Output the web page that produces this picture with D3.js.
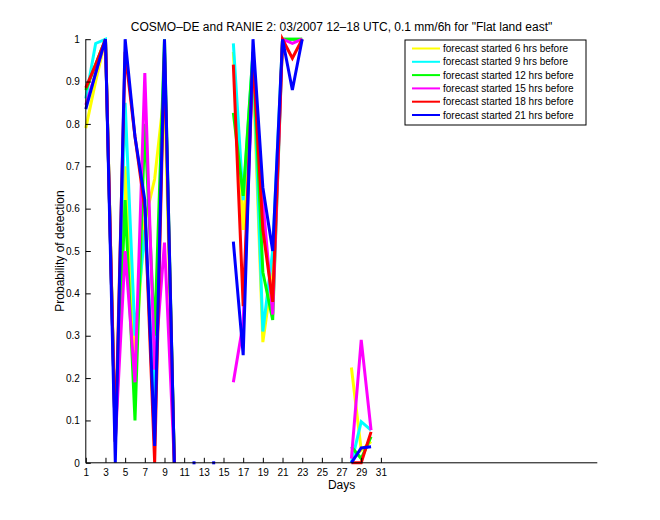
<!DOCTYPE html>
<html><head><meta charset="utf-8">
<script src="https://cdn.jsdelivr.net/npm/d3@7"></script>
<style>body{margin:0;background:#fff;} text{font-family:"Liberation Sans",Arial,Helvetica,sans-serif;}</style>
</head><body><div id="chart"></div>
<script>
const days = [1,2,3,4,5,6,7,8,9,10,11,12,13,14,15,16,17,18,19,20,21,22,23,24,25,26,27,28,29,30,31];
const N = null;
const s6  = [0.79,0.90,1,0.07,0.70,0.25,0.57,0.67,0.88,0, N,N,N,N,N, 0.97,0.55,0.93,0.285,0.45,1,1,1, N,N,N,N, 0.225,0.03,0.05, N];
const s9  = [0.86,0.99,1,0.05,0.85,0.30,0.55,0.15,0.97,0, N,N,N,N,N, 0.99,0.62,0.97,0.31,0.50,1,1,1, N,N,N,N, 0.0,0.097,0.077, N];
const s12 = [0.88,0.94,1,0.05,0.62,0.10,0.80,0.30,1.0,0, N,N,N,N,N, 0.826,0.63,0.97,0.45,0.337,1,1,1, N,N,N,N, 0.038,0.01,0.062, N];
const s15 = [0.845,0.92,1,0.05,0.50,0.19,0.92,0.22,0.52,0, N,N,N,N,N, 0.19,0.33,0.95,0.62,0.35,1,0.99,1, N,N,N,N, 0.01,0.29,0.077, N];
const s18 = [0.885,0.94,1,0.05,0.97,0.77,0.60,0.0,0.97,0, N,N,N,N,N, 0.94,0.37,0.96,0.55,0.38,1,0.955,1, N,N,N,N, 0.0,0.0,0.073, N];
const s21 = [0.835,0.92,1,0,1,0.77,0.62,0.04,1,0, N,0,N,0,N, 0.522,0.254,1,0.65,0.50,1,0.88,1, N,N,N,N, 0.0,0.035,0.038, N];
const seriesNames = ["forecast started 6 hrs before","forecast started 9 hrs before","forecast started 12 hrs before","forecast started 15 hrs before","forecast started 18 hrs before","forecast started 21 hrs before"];
const seriesColors = ["#ffff00","#00ffff","#00ff00","#ff00ff","#ff0000","#0000ff"];
const seriesValues = [s6,s9,s12,s15,s18,s21];
const xTicks = [1,3,5,7,9,11,13,15,17,19,21,23,25,27,29,31];
const yTicks = [0,0.1,0.2,0.3,0.4,0.5,0.6,0.7,0.8,0.9,1];
const titleText = 'COSMO\u2013DE and RANIE 2: 03/2007 12\u201318 UTC, 0.1 mm/6h for "Flat land east"';

const W=660,H=520;
const L=85.8,R=597.3,T=39.2,B=462.8;
const svg=d3.select("#chart").append("svg").attr("width",W).attr("height",H);
const x=d3.scaleLinear().domain([1,53]).range([L,R]);
const y=d3.scaleLinear().domain([0,1]).range([B,T]);

// lines
const line=d3.line().defined(d=>d[1]!==null).x(d=>x(d[0])).y(d=>y(d[1]));
seriesValues.forEach((vals,i)=>{
  const pts=days.map((d,j)=>[d,vals[j]]);
  svg.append("path").attr("d",line(pts)).attr("fill","none")
    .attr("stroke",seriesColors[i]).attr("stroke-width",3).attr("stroke-linejoin","miter");
  // isolated points
  pts.forEach((p,j)=>{
    if(p[1]===null) return;
    const prev=j>0?vals[j-1]:null, next=j<vals.length-1?vals[j+1]:null;
    if(prev===null && next===null){
      svg.append("rect").attr("x",x(p[0])-1.5).attr("y",y(p[1])-1.5).attr("width",3).attr("height",3).attr("fill",seriesColors[i]);
    }
  });
});

// axes
const xAxis=d3.axisBottom(x).tickValues(xTicks).tickFormat(d3.format("d")).tickSizeInner(-5).tickSizeOuter(0).tickPadding(6);
const gx=svg.append("g").attr("transform",`translate(0,${B})`).call(xAxis);
gx.select(".domain").remove();
svg.append("line").attr("x1",L).attr("x2",R).attr("y1",B).attr("y2",B).attr("stroke","#000");
gx.selectAll("text").attr("font-size",10).attr("fill","#000");
const yAxis=d3.axisLeft(y).tickValues(yTicks).tickFormat(d=>d===0?"0":d===1?"1":d3.format(".1f")(d)).tickSizeInner(-5).tickSizeOuter(0).tickPadding(6);
const gy=svg.append("g").attr("transform",`translate(${L},0)`).call(yAxis);
gy.select(".domain").remove();
svg.append("line").attr("x1",L).attr("x2",L).attr("y1",T).attr("y2",B).attr("stroke","#000");
gy.selectAll("text").attr("font-size",10).attr("fill","#000");

// labels
svg.append("text").attr("x",(L+R)/2).attr("y",31).attr("text-anchor","middle").attr("font-size",12).text(titleText);
svg.append("text").attr("x",(L+R)/2).attr("y",489).attr("text-anchor","middle").attr("font-size",12).text("Days");
svg.append("text").attr("transform",`translate(64,${(T+B)/2}) rotate(-90)`).attr("text-anchor","middle").attr("font-size",12).text("Probability of detection");

// legend
const lg=svg.append("g");
lg.append("rect").attr("x",405).attr("y",40).attr("width",181).attr("height",85).attr("fill","#fff").attr("stroke","#000");
seriesNames.forEach((n,i)=>{
  const yy=48.5+i*13.3;
  lg.append("line").attr("x1",412).attr("x2",440).attr("y1",yy).attr("y2",yy).attr("stroke",seriesColors[i]).attr("stroke-width",2);
  lg.append("text").attr("x",443).attr("y",yy+3.5).attr("font-size",10).text(n);
});
</script></body></html>
